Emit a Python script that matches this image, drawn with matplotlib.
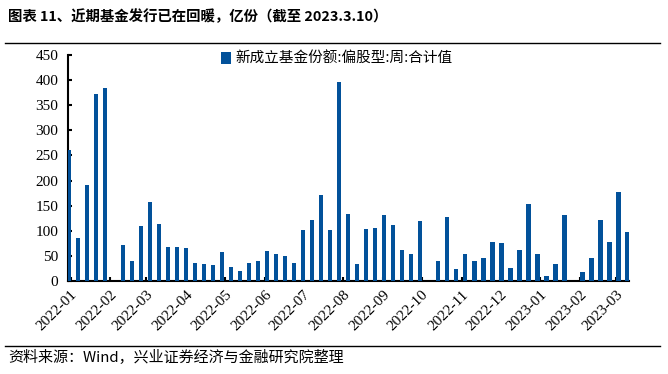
import numpy as np
import pandas as pd
import matplotlib
matplotlib.use('Agg')
import matplotlib.pyplot as plt
import matplotlib.dates as mdates
from matplotlib.lines import Line2D

# weekly new equity-fund shares (亿份), Fridays from 2021-12-31 to 2023-03-10
weeks = pd.date_range('2021-12-31', '2023-03-10', freq='7D')
shares = [260, 86, 191, 372, 384, 0, 71, 39, 109, 157,
          113, 67, 67, 65, 35, 33, 31, 57, 27, 19,
          35, 39, 59, 54, 50, 35, 101, 121, 172, 101,
          396, 133, 33, 104, 106, 131, 111, 62, 53, 119,
          0, 39, 127, 23, 54, 39, 45, 78, 75, 25,
          62, 154, 54, 9, 33, 132, 0, 17, 45, 122,
          78, 178, 98]

title = '图表 11、近期基金发行已在回暖，亿份（截至 2023.3.10）'
legend_label = '新成立基金份额:偏股型:周:合计值'
source = '资料来源：Wind，兴业证券经济与金融研究院整理'
bar_color = '#02519a'

cjk = ['Noto Sans CJK SC', 'DejaVu Sans']
serif = 'Liberation Serif'

fig = plt.figure(figsize=(6.68, 3.74), dpi=100)
ax = fig.add_axes([0.1018, 0.2487, 0.8395, 0.6043])

ax.bar(weeks, shares, width=3.2, color=bar_color, label=legend_label, zorder=2)

ax.set_xlim(pd.Timestamp('2021-12-30'), pd.Timestamp('2023-03-11'))
ax.set_ylim(0, 450)
ax.set_yticks(np.arange(0, 451, 50))

ax.xaxis.set_major_locator(mdates.MonthLocator())
ax.xaxis.set_major_formatter(mdates.DateFormatter('%Y-%m'))

for side in ['top', 'right']:
    ax.spines[side].set_visible(False)
for side in ['left', 'bottom']:
    ax.spines[side].set_linewidth(1.5)
    ax.spines[side].set_zorder(1)

ax.tick_params(axis='both', direction='in', length=3, width=1.5, labelsize=11)
ax.tick_params(axis='y', pad=7)
ax.tick_params(axis='x', pad=5)
for lbl in ax.get_xticklabels() + ax.get_yticklabels():
    lbl.set_fontfamily(serif)
for lbl in ax.get_xticklabels():
    lbl.set_rotation(45)
    lbl.set_ha('right')
    lbl.set_rotation_mode('anchor')

leg = ax.legend(loc='upper left', bbox_to_anchor=(0.262, 1.04), frameon=False,
                prop={'family': cjk, 'size': 10.5}, handlelength=0.7, handleheight=0.9,
                handletextpad=0.3, borderaxespad=0)

fig.text(0.012, 0.955, title, family=cjk, weight='bold', fontsize=10.4, va='center')
fig.text(0.012, 0.045, source, family=cjk, fontsize=10.8, va='center')
fig.add_artist(Line2D([0.008, 0.988], [0.885, 0.885], color='black', lw=1))
fig.add_artist(Line2D([0.008, 0.988], [0.075, 0.075], color='black', lw=1))

fig.savefig('out.png', dpi=100)
